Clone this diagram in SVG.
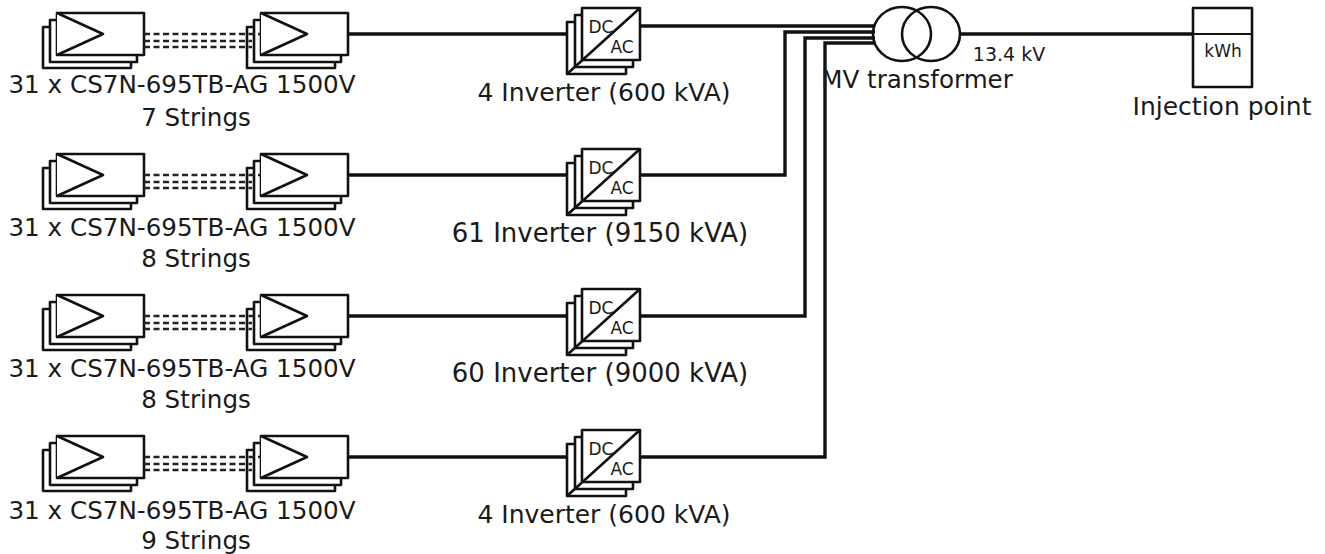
<svg xmlns="http://www.w3.org/2000/svg" width="1325" height="554" viewBox="0 0 1325 554">
<style>
text{font-family:"DejaVu Sans",Verdana,sans-serif;fill:#1a1a1a}
.l{font-size:24.6px;text-anchor:middle}
.i{font-size:25px;text-anchor:middle}
.j{font-size:26px;text-anchor:middle}
.s{font-size:19px;text-anchor:middle}
.c{font-size:17px;text-anchor:middle}
.p{fill:#fff;stroke:#111;stroke-width:2.6;stroke-linejoin:round}
.w{fill:none;stroke:#111;stroke-width:3.4}
.d{fill:none;stroke:#222;stroke-width:2.4;stroke-dasharray:6 3.5}
</style>
<defs>
<g id="pv">
<rect class="p" x="43" y="27" width="88" height="41"/>
<rect class="p" x="50" y="20" width="87" height="42"/>
<rect class="p" x="57" y="13" width="87" height="42"/>
<path class="p" d="M57 13L103 34L57 55"/>
</g>
<g id="inv">
<rect class="p" x="567" y="22" width="59" height="52"/>
<rect class="p" x="575" y="15" width="58" height="52"/>
<rect class="p" x="582" y="8" width="58" height="52"/>
<path class="p" d="M640 8L567 74"/>
<text class="c" x="601" y="33">DC</text>
<text class="c" x="622" y="53">AC</text>
</g>
<g id="dash">
<path class="d" d="M144 34H261M144 41H252M144 47H252"/>
</g>
</defs>
<g id="connectors">
<path class="w" d="M348 34H582M640 26H875"/>
<path class="w" d="M348 175H582M640 175H785V32H875"/>
<path class="w" d="M348 316H582M640 316H805V38H875"/>
<path class="w" d="M348 457H582M640 457H825V43H875"/>
<path class="w" d="M961 34H1194"/>
</g>
<g id="string-1">
<use href="#pv"/><use href="#pv" x="204"/><use href="#dash"/>
<text class="l" x="182" y="93">31 x CS7N-695TB-AG 1500V</text><text class="l" x="196" y="126">7 Strings</text>
</g>
<g id="string-2" transform="translate(0,141)">
<use href="#pv"/><use href="#pv" x="204"/><use href="#dash"/>
<text class="l" x="182" y="95">31 x CS7N-695TB-AG 1500V</text><text class="l" x="196" y="126">8 Strings</text>
</g>
<g id="string-3" transform="translate(0,282)">
<use href="#pv"/><use href="#pv" x="204"/><use href="#dash"/>
<text class="l" x="182" y="95">31 x CS7N-695TB-AG 1500V</text><text class="l" x="196" y="126">8 Strings</text>
</g>
<g id="string-4" transform="translate(0,423)">
<use href="#pv"/><use href="#pv" x="204"/><use href="#dash"/>
<text class="l" x="182" y="96">31 x CS7N-695TB-AG 1500V</text><text class="l" x="196" y="126">9 Strings</text>
</g>
<g id="inverter-1"><use href="#inv"/><text class="i" x="604" y="101">4 Inverter (600 kVA)</text></g>
<g id="inverter-2" transform="translate(0,141)"><use href="#inv"/><text class="j" x="600" y="101">61 Inverter (9150 kVA)</text></g>
<g id="inverter-3" transform="translate(0,281)"><use href="#inv"/><text class="j" x="600" y="101">60 Inverter (9000 kVA)</text></g>
<g id="inverter-4" transform="translate(0,422)"><use href="#inv"/><text class="i" x="604" y="101">4 Inverter (600 kVA)</text></g>
<g id="transformer">
<ellipse cx="902" cy="34" rx="29" ry="27" fill="none" stroke="#111" stroke-width="2.6"/>
<ellipse cx="931" cy="34" rx="29" ry="27" fill="none" stroke="#111" stroke-width="2.6"/>
<text class="l" x="917" y="88">MV transformer</text>
<text class="s" x="1009" y="61">13.4 kV</text>
</g>
<g id="meter">
<rect class="p" x="1193" y="8" width="59" height="79" fill="none"/>
<path d="M1193 34H1252" stroke="#111" stroke-width="2"/>
<text class="c" x="1223" y="57">kWh</text>
<text class="i" x="1222" y="115">Injection point</text>
</g>
</svg>
